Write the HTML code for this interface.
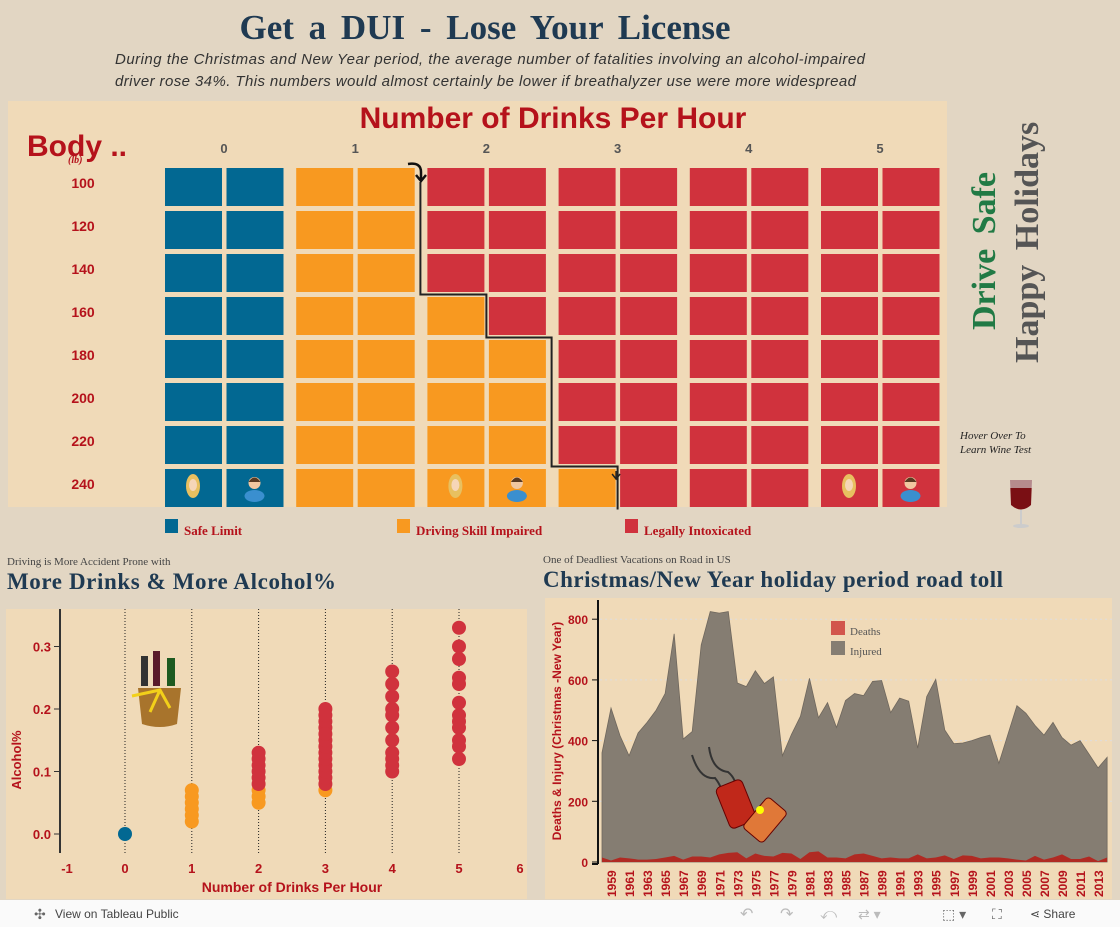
<!DOCTYPE html>
<html><head><meta charset="utf-8">
<style>
body{margin:0;background:#e2d6c3;}
svg{display:block;font-family:"Liberation Sans",sans-serif;}
</style></head>
<body>
<svg id="dash" width="1120" height="927" viewBox="0 0 1120 927" xmlns="http://www.w3.org/2000/svg">
<rect x="0" y="0" width="1120" height="927" fill="#e2d6c3"/>
<text x="485" y="39" text-anchor="middle" font-family="Liberation Serif,serif" font-weight="bold" font-size="35" fill="#1f3a52" word-spacing="6">Get a DUI - Lose Your License</text>
<text x="115" y="64" font-style="italic" font-size="15" fill="#333" textLength="750">During the Christmas and New Year period, the average number of fatalities involving an alcohol-impaired</text>
<text x="115" y="86" font-style="italic" font-size="15" fill="#333" textLength="741">driver rose 34%. This numbers would almost certainly be lower if breathalyzer use were more widespread</text>

<rect x="8" y="101" width="939" height="406" fill="#f0dab8"/>
<text x="553" y="128" text-anchor="middle" font-weight="bold" font-size="30" fill="#b5121b">Number of Drinks Per Hour</text>
<text x="27" y="156" font-weight="bold" font-size="30" fill="#b5121b">Body ..</text>
<text x="68" y="163" font-family="Liberation Serif,serif" font-style="italic" font-weight="bold" font-size="10" fill="#b5121b">(lb)</text>
<g id="grid"></g>

<text transform="translate(995,330) rotate(-90)" font-family="Liberation Serif,serif" font-weight="bold" font-size="34" fill="#217a45" word-spacing="6">Drive Safe</text>
<text transform="translate(1038,363) rotate(-90)" font-family="Liberation Serif,serif" font-weight="bold" font-size="34" fill="#555" word-spacing="6">Happy Holidays</text>
<text x="960" y="439" font-family="Liberation Serif,serif" font-style="italic" font-size="11" fill="#222">Hover Over To</text>
<text x="960" y="453" font-family="Liberation Serif,serif" font-style="italic" font-size="11" fill="#222">Learn Wine Test</text>
<g>
<path d="M1010,480 L1032,480 L1031,505 Q1021,514 1011,505 Z" fill="#7a0f14"/>
<path d="M1010,480 L1032,480 L1032,488 L1010,488 Z" fill="#ddd" opacity="0.6"/>
<rect x="1020" y="510" width="2" height="14" fill="#ccc"/>
<ellipse cx="1021" cy="526" rx="8" ry="2" fill="#ccc"/>
</g>

<g id="legend"></g>

<text x="7" y="565" font-family="Liberation Serif,serif" font-size="11" fill="#444">Driving is More Accident Prone with</text>
<text x="7" y="589" font-family="Liberation Serif,serif" font-weight="bold" font-size="23" fill="#1f3a52" textLength="329">More Drinks &amp; More Alcohol%</text>
<text x="543" y="563" font-family="Liberation Serif,serif" font-size="11" fill="#444">One of  Deadliest Vacations on Road in US</text>
<text x="543" y="587" font-family="Liberation Serif,serif" font-weight="bold" font-size="23" fill="#1f3a52" textLength="460">Christmas/New Year holiday period road toll</text>

<rect x="6" y="609" width="521" height="290" fill="#f0dab8"/>
<g id="scatter"></g>
<rect x="545" y="598" width="567" height="301" fill="#f0dab8"/>
<g id="area"></g>

<rect x="0" y="900" width="1120" height="27" fill="#fafafa"/>
<text x="55" y="918" font-size="12" fill="#444">View on Tableau Public</text>
<text x="34" y="919" font-size="14" fill="#666">✣</text>
<text x="740" y="919" font-size="16" fill="#bbb">↶</text>
<text x="780" y="919" font-size="16" fill="#bbb">↷</text>
<text x="820" y="919" font-size="16" fill="#bbb">⤺</text>
<text x="858" y="919" font-size="14" fill="#bbb">⇄ ▾</text>
<text x="942" y="919" font-size="14" fill="#666">⬚ ▾</text>
<text x="992" y="919" font-size="14" fill="#666">⛶</text>
<text x="1030" y="918" font-size="12" fill="#444">⋖ Share</text>
</svg>
<script>
const NS="http://www.w3.org/2000/svg";
function mk(parent,tag,attrs,text){const e=document.createElementNS(NS,tag);for(const k in attrs)e.setAttribute(k,attrs[k]);if(text!==undefined)e.textContent=text;parent.appendChild(e);return e;}

// ---------- grid data ----------
const weights=[100,120,140,160,180,200,220,240];
const drinkGroups=[0,1,2,3,4,5];
const orangeStart=[2,2,2,2,2,2,2,2];
const redStart=[4,4,4,5,6,6,6,7];
const blueEnd=[2,2,2,2,2,2,2,0];

const grid=document.getElementById('grid');
const COL={blue:'#026892',orange:'#f89920',red:'#d0323d'};
function slotX(s){return 165+Math.floor(s/2)*131.2+(s%2)*61.5;}
function rowY(r){return 168+r*43;}
drinkGroups.forEach((d,i)=>{
  const t=mk(grid,'text',{x:slotX(i*2)+59,y:153,'text-anchor':'middle','font-weight':'bold','font-size':13,fill:'#555'},d);
  
  
});
weights.forEach((w,r)=>{
  const t=mk(grid,'text',{x:83,y:rowY(r)+20,'text-anchor':'middle','font-weight':'bold','font-size':14,fill:'#b5121b'},w);
  
  
  for(let s=0;s<12;s++){
    let c=s>=redStart[r]?COL.red:(s>=orangeStart[r]?COL.orange:(s<blueEnd[r]?COL.blue:COL.orange));
    if(r===7&&s<2)c=COL.blue;
    const cell=mk(grid,'rect',{x:slotX(s),y:rowY(r),width:57,height:38,fill:c});
    
    
  }
});
[[0,'f'],[1,'m'],[4,'f'],[5,'m'],[10,'f'],[11,'m']].forEach(([s,g])=>{
  const cx=slotX(s)+28,cy=rowY(7)+19;
  const ic=mk(grid,'g',{});
  
  
  if(g==='f'){mk(ic,'ellipse',{cx:cx,cy:cy-2,rx:7,ry:12,fill:'#e8c060'});mk(ic,'ellipse',{cx:cx,cy:cy-3,rx:4,ry:6,fill:'#f6d6b8'});}
  else{mk(ic,'ellipse',{cx:cx,cy:cy+8,rx:10,ry:6,fill:'#3a8fcf'});mk(ic,'circle',{cx:cx,cy:cy-5,r:6,fill:'#f1c7a0'});mk(ic,'path',{d:`M${cx-6},${cy-6} Q${cx},${cy-15} ${cx+6},${cy-6}`,fill:'#5a3a22'});}
});
let d='';
redStart.forEach((s,r)=>{
  const x=slotX(s)-(s%2?2.5:7);
  d+=(r===0?`M${x},${rowY(0)+14}`:` L${x},${rowY(r)-2.5}`)+` L${x},${rowY(r)+40.5}`;
});
const stair=mk(grid,'path',{d:d,fill:'none',stroke:'#222','stroke-width':2});


mk(grid,'path',{d:'M408,164 Q421,162 421,172 L421,180 M416,175 L421,181 L426,175',fill:'none',stroke:'#111','stroke-width':2.5});
mk(grid,'path',{d:`M${slotX(7)-4},471 L${slotX(7)-4},478 M${slotX(7)-8},474 L${slotX(7)-4},479 L${slotX(7)},474`,fill:'none',stroke:'#222','stroke-width':1.5});

const legendLabels=['Safe Limit','Driving Skill Impaired','Legally Intoxicated'];
const legendColors=[COL.blue,COL.orange,COL.red];
const legendX=[165,397,625];
const lg=document.getElementById('legend');
legendLabels.forEach((l,i)=>{
  const g=mk(lg,'g',{});
  
  
  mk(g,'rect',{x:legendX[i],y:519,width:13,height:14,fill:legendColors[i]});
  mk(g,'text',{x:legendX[i]+19,y:535,'font-family':'Liberation Serif,serif','font-weight':'bold','font-size':13,fill:'#b5121b'},l);
});

// ---------- scatter ----------
const scDrinks=[0,1,1,1,1,1,1,2,2,2,2,2,2,2,2,2,3,3,3,3,3,3,3,3,3,3,3,3,3,3,4,4,4,4,4,4,4,4,4,4,4,5,5,5,5,5,5,5,5,5,5,5,5];
const scAlcohol=[0,0.02,0.03,0.04,0.05,0.06,0.07,0.05,0.06,0.07,0.08,0.09,0.10,0.11,0.12,0.13,0.07,0.08,0.09,0.10,0.11,0.12,0.13,0.14,0.15,0.17,0.18,0.20,0.16,0.19,0.10,0.11,0.12,0.13,0.15,0.17,0.19,0.20,0.22,0.24,0.26,0.12,0.14,0.15,0.17,0.18,0.19,0.21,0.24,0.25,0.28,0.30,0.33];
const scStatus=['s','i','i','i','i','i','i','i','i','i','x','x','x','x','x','x','i','x','x','x','x','x','x','x','x','x','x','x','x','x','x','x','x','x','x','x','x','x','x','x','x','x','x','x','x','x','x','x','x','x','x','x','x'];
const xTicks=[-1,0,1,2,3,4,5,6];
const yTicks=[0.0,0.1,0.2,0.3];
const sx=v=>125+v*66.8, sy=v=>834-v*625;
const sc=document.getElementById('scatter');
mk(sc,'line',{x1:60,y1:609,x2:60,y2:853,stroke:'#333','stroke-width':2});
xTicks.forEach(t=>{
  if(t>=0&&t<=5){const gl=mk(sc,'line',{x1:sx(t),y1:609,x2:sx(t),y2:855,stroke:'#222','stroke-width':1,'stroke-dasharray':'1,2'});
  }
  const tl=mk(sc,'text',{x:t===-1?67:(t===6?520:sx(t)),y:873,'text-anchor':'middle','font-weight':'bold','font-size':13,fill:'#b5121b'},t);
  
  
});
yTicks.forEach(t=>{
  mk(sc,'line',{x1:54,y1:sy(t),x2:60,y2:sy(t),stroke:'#333'});
  const tl=mk(sc,'text',{x:51,y:sy(t)+5,'text-anchor':'end','font-weight':'bold','font-size':13,fill:'#b5121b'},t.toFixed(1));
  
  
});
const sxt=mk(sc,'text',{x:292,y:892,'text-anchor':'middle','font-weight':'bold','font-size':14,fill:'#b5121b'},'Number of Drinks Per Hour');

const syt=mk(sc,'text',{transform:'translate(21,760) rotate(-90)','text-anchor':'middle','font-weight':'bold','font-size':13,fill:'#b5121b'},'Alcohol%');

scDrinks.forEach((x,i)=>{
  const c=mk(sc,'circle',{cx:sx(x),cy:sy(scAlcohol[i]),r:7,fill:scStatus[i]==='s'?COL.blue:(scStatus[i]==='i'?COL.orange:COL.red)});
  
  
});
const bk=mk(sc,'g',{});

mk(bk,'rect',{x:141,y:656,width:7,height:30,fill:'#333'});
mk(bk,'rect',{x:153,y:651,width:7,height:35,fill:'#5a1a2a'});
mk(bk,'rect',{x:167,y:658,width:8,height:28,fill:'#1d5a20'});
mk(bk,'path',{d:'M138,688 L181,688 L177,724 Q160,730 142,724 Z',fill:'#a8742c'});
mk(bk,'path',{d:'M132,696 L160,690 L170,708 M160,690 L150,712',fill:'none',stroke:'#f2d01a','stroke-width':3});

// ---------- area chart ----------
const years=[];for(let y=1958;y<=2014;y++)years.push(y);
const injured=[360,507,416,350,425,460,500,555,752,405,430,715,825,820,825,590,578,630,588,610,350,420,480,605,475,525,443,532,555,548,595,598,492,540,530,375,545,602,435,390,392,400,410,418,325,420,515,490,450,418,460,410,385,400,355,310,345];
const deaths=[15,5,15,12,8,8,10,15,20,8,18,18,15,25,30,32,12,28,20,18,30,28,10,32,35,15,15,12,25,28,20,12,15,12,12,25,12,15,22,10,22,20,12,15,15,12,8,5,20,8,15,25,10,10,18,3,15];
const aTicks=[0,200,400,600,800];
const ax=i=>602+i*9.02, ay=v=>862-v*0.3035;
const ar=document.getElementById('area');
aTicks.forEach(t=>{
  if(t>0){const gl=mk(ar,'line',{x1:600,y1:ay(t),x2:1112,y2:ay(t),stroke:'#ddd','stroke-dasharray':'2,3'});}
  mk(ar,'line',{x1:592,y1:ay(t),x2:598,y2:ay(t),stroke:'#111'});
  const tl=mk(ar,'text',{x:588,y:ay(t)+5,'text-anchor':'end','font-weight':'bold','font-size':12,fill:'#b5121b'},t);
  
});
let pi=`M${ax(0)},${ay(0)}`;injured.forEach((v,i)=>pi+=` L${ax(i)},${ay(v)}`);pi+=` L${ax(injured.length-1)},${ay(0)} Z`;
const ia=mk(ar,'path',{d:pi,fill:'#857d72',stroke:'#6f675d','stroke-width':0.8});

let pd=`M${ax(0)},${ay(0)}`;deaths.forEach((v,i)=>pd+=` L${ax(i)},${ay(v)}`);pd+=` L${ax(deaths.length-1)},${ay(0)} Z`;
const da=mk(ar,'path',{d:pd,fill:'#b02a23'});

mk(ar,'line',{x1:598,y1:600,x2:598,y2:864,stroke:'#111','stroke-width':2});
mk(ar,'line',{x1:592,y1:864,x2:598,y2:864,stroke:'#111','stroke-width':2});
years.forEach((y,i)=>{
  if((y-1959)%2===0){const tl=mk(ar,'text',{transform:`translate(${ax(i)+5},897) rotate(-90)`,'font-weight':'bold','font-size':12,fill:'#b5121b'},y);
  }
});
const ayt=mk(ar,'text',{transform:'translate(561,731) rotate(-90)','text-anchor':'middle','font-weight':'bold','font-size':12,fill:'#b5121b'},'Deaths & Injury (Christmas -New Year)');

const l1=mk(ar,'g',{});
mk(l1,'rect',{x:831,y:621,width:14,height:14,fill:'#d2564c'});
mk(l1,'text',{x:850,y:635,'font-family':'Liberation Serif,serif','font-size':11,fill:'#555'},'Deaths');
const l2=mk(ar,'g',{});
mk(l2,'rect',{x:831,y:641,width:14,height:14,fill:'#857d72'});
mk(l2,'text',{x:850,y:655,'font-family':'Liberation Serif,serif','font-size':11,fill:'#555'},'Injured');
const cr=mk(ar,'g',{});
mk(cr,'path',{d:'M692,755 Q700,780 715,778 Q725,790 722,805 M709,747 Q712,770 728,772 Q738,780 736,795',fill:'none',stroke:'#333','stroke-width':2});
mk(cr,'rect',{x:722,y:782,width:28,height:44,rx:5,fill:'#c0281a',stroke:'#600',transform:'rotate(-22 736 804)'});
mk(cr,'rect',{x:752,y:800,width:26,height:40,rx:4,fill:'#e07838',stroke:'#600',transform:'rotate(40 765 820)'});
mk(cr,'circle',{cx:760,cy:810,r:4,fill:'#ff0'});
</script>
</body></html>
